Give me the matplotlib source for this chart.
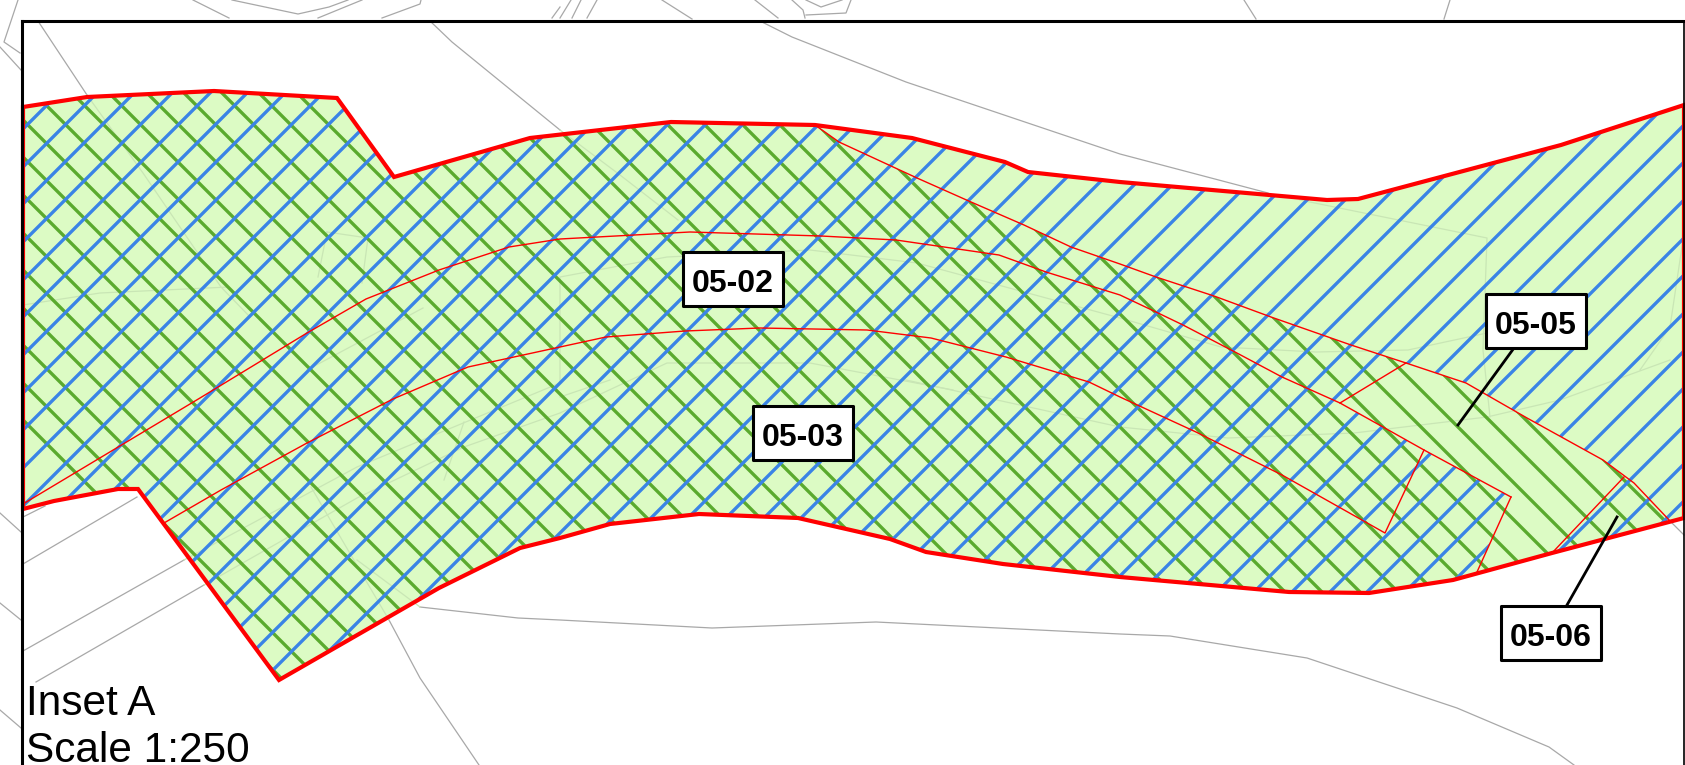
import matplotlib
matplotlib.use("Agg")
import matplotlib.pyplot as plt
from matplotlib.patches import Polygon, Rectangle

plt.rcParams['font.family'] = ['Liberation Sans', 'DejaVu Sans']

# everything in picture pixels
outer_top = [(23, 107), (87, 97), (214, 91), (337, 98), (394, 177), (530, 138), (671, 122), (815, 125),
             (912, 138), (1005, 162), (1028, 172), (1120, 182), (1327, 200), (1358, 199), (1561, 145), (1684, 105)]
outer_bottom = [(1684, 518), (1552, 553), (1453, 580), (1369, 593), (1289, 592), (1120, 577), (1003, 564),
                (926, 552), (890, 539), (798, 518), (699, 514), (610, 524), (560, 538), (520, 548), (439, 588),
                (279, 680), (138, 489), (118, 489), (54, 501), (23, 509)]

line_a = [(815, 125), (839, 142), (917, 178), (971, 202), (1024, 225), (1071, 247), (1120, 264), (1156, 277),
          (1214, 296), (1271, 317), (1351, 345), (1406, 363), (1466, 383), (1527, 418), (1603, 460),
          (1634, 483), (1671, 522)]
line_b = [(23, 504), (200, 398), (307, 333), (366, 299), (439, 270), (509, 247), (560, 239), (690, 232),
          (821, 236), (896, 240), (999, 255), (1046, 272), (1120, 295), (1156, 312), (1183, 325), (1235, 352),
          (1282, 377), (1340, 403), (1383, 427), (1424, 450), (1511, 497)]
line_c = [(164, 523), (221, 490), (307, 443), (393, 399), (468, 367), (560, 347), (606, 337), (685, 331),
          (760, 328), (867, 330), (931, 338), (1006, 357), (1089, 382), (1120, 397), (1196, 432), (1282, 475),
          (1385, 533), (1424, 450)]
tick_d = [(1406, 363), (1340, 403)]
tick_e = [(1511, 497), (1477, 572)]
tick_f = [(1624, 477), (1552, 553)]

# blue gap (no blue hatch inside 05-05)
blue_notch = [(1552, 553), (1624, 477), (1603, 460), (1527, 418), (1466, 383), (1406, 363), (1340, 403),
              (1383, 427), (1424, 450), (1511, 497), (1477, 572)]

blue_offsets = [152, 190, 227, 265, 303, 340, 378, 416, 453, 491, 529, 566, 604, 641, 679, 717, 754, 792, 830,
                867, 905, 943, 980, 1018, 1056, 1093, 1131, 1169, 1206, 1244, 1282, 1319, 1357, 1394, 1432, 1470,
                1507, 1545, 1583, 1620, 1658, 1696, 1733, 1771, 1809, 1846, 1884, 1922, 1959, 1997, 2035, 2072,
                2110, 2148, 2185]
green_offsets = [-1181, -1144, -1106, -1069, -1031, -994, -956, -918, -881, -843, -806, -768, -730, -693, -655,
                 -618, -580, -543, -505, -467, -429, -392, -354, -317, -279, -242, -204, -166, -129, -91, -54,
                 -16, 21, 59, 97, 134, 172, 210, 247, 285, 322, 360, 397]
hatch_slope = 1.0

grey_outside = [
    [(18, 0), (4, 42), (20, 53)],
    [(0, 47), (21, 70)],
    [(0, 513), (21, 532)],
    [(0, 603), (21, 620)],
    [(0, 710), (21, 728)],
    [(193, 0), (229, 18)],
    [(232, 0), (298, 14), (329, 7), (348, 0)],
    [(318, 18), (362, 0)],
    [(382, 18), (420, 4), (421, 0)],
    [(552, 18), (560, 7)],
    [(560, 18), (571, 0)],
    [(572, 18), (581, 0)],
    [(587, 18), (597, 0)],
    [(662, 0), (692, 19)],
    [(755, 0), (778, 18)],
    [(792, 0), (803, 10), (805, 18)],
    [(806, 15), (846, 13), (851, 0)],
    [(806, 0), (821, 7), (842, 0)],
    [(1244, 0), (1256, 19)],
    [(1450, 0), (1444, 19)],
]
grey_inside = [
    [(38, 21), (87, 95)],
    [(430, 21), (452, 42), (560, 130)],
    [(760, 21), (792, 37), (906, 82), (1120, 154), (1268, 193)],
    [(23, 517), (45, 506)],
    [(23, 564), (137, 497)],
    [(23, 651), (184, 560)],
    [(36, 682), (204, 585)],
    [(389, 620), (420, 678), (479, 765)],
    [(420, 607), (518, 618), (560, 620), (712, 628), (876, 622), (1120, 634), (1170, 636), (1307, 658),
     (1457, 708), (1549, 747), (1574, 765)],
    [(1671, 522), (1684, 535)],
]
faint_lines = [
    [(87, 95), (143, 173), (221, 287), (250, 317)],
    [(23, 305), (100, 293), (229, 287)],
    [(327, 232), (368, 238), (362, 283)],
    [(327, 232), (318, 277)],
    [(423, 308), (307, 370)],
    [(560, 130), (620, 175), (678, 220)],
    [(184, 560), (357, 467), (560, 383), (560, 277), (667, 257), (810, 250), (917, 263), (1120, 318), (1221, 347),
     (1316, 352), (1408, 350), (1487, 333)],
    [(204, 585), (357, 498), (464, 447), (560, 413), (667, 363), (810, 363), (953, 390)],
    [(560, 397), (610, 380)],
    [(906, 380), (1120, 427), (1228, 438), (1354, 433), (1487, 417), (1560, 400), (1670, 360)],
    [(1300, 200), (1487, 238), (1483, 350), (1490, 417)],
    [(1684, 233), (1670, 327), (1640, 370)],
    [(311, 487), (389, 620)],
    [(357, 560), (420, 607)],
    [(464, 422), (444, 480)],
]

labels = ['05-02', '05-03', '05-05', '05-06']
label_xy = [(733, 279), (803, 433), (1536, 321), (1551, 633)]
leaders = [[(1514, 348), (1458, 425)], [(1567, 605), (1617, 517)]]

FILL = '#dcfbc4'
BLUE = '#3a84e6'
GREEN = '#5aaa2e'
RED = '#ff0000'

fig = plt.figure(figsize=(16.85, 7.65), dpi=100)
ax = fig.add_axes([0, 0, 1, 1])
ax.set_xlim(0, 1685)
ax.set_ylim(765, 0)
ax.axis('off')

for pts in grey_outside:
    ax.plot(*zip(*pts), color='#a8a8a8', lw=0.9, zorder=1)
ax.add_patch(Rectangle((22, 21), 1662, 744, fc='white', ec='none', zorder=2))
for pts in grey_inside:
    ax.plot(*zip(*pts), color='#a8a8a8', lw=0.9, zorder=3)

outer = outer_top + outer_bottom
ax.add_patch(Polygon(outer, closed=True, fc=FILL, ec='none', zorder=4))
for pts in faint_lines:
    ax.plot(*zip(*pts), color='#c9e6b5', lw=0.9, zorder=5)

green_clip = Polygon(outer_top[:8] + line_a[1:] + outer_bottom[1:], closed=True, fc='none', ec='none',
                     transform=ax.transData)
blue_clip = Polygon(outer_top + outer_bottom[:1] + blue_notch + outer_bottom[2:], closed=True, fc='none',
                    ec='none', transform=ax.transData)
ax.add_patch(green_clip)
ax.add_patch(blue_clip)

x0, x1 = 0, 1685
for c in green_offsets:
    ln, = ax.plot([x0, x1], [c + hatch_slope * x0, c + hatch_slope * x1], color=GREEN, lw=2.4, zorder=6)
    ln.set_clip_path(green_clip)
for b in blue_offsets:
    ln, = ax.plot([x0, x1], [b - hatch_slope * x0, b - hatch_slope * x1], color=BLUE, lw=2.4, zorder=7)
    ln.set_clip_path(blue_clip)

for pts in [line_a, line_b, line_c, tick_d, tick_e, tick_f]:
    ax.plot(*zip(*pts), color=RED, lw=1.0, zorder=8)
ax.add_patch(Polygon(outer, closed=True, fc='none', ec=RED, lw=3.0, joinstyle='miter', zorder=9))

for pts in leaders:
    ax.plot(*zip(*pts), color='black', lw=2.0, zorder=10)
for txt, (x, y) in zip(labels, label_xy):
    ax.add_patch(Rectangle((x - 50, y - 27), 100, 54, fc='white', ec='black', lw=2.2, joinstyle='round', zorder=11))
    ax.text(x, y + 1, txt, ha='center', va='center_baseline', fontsize=23, fontweight='bold', color='black',
            zorder=12)

ax.plot([22, 22], [21, 765], color='black', lw=2.2, zorder=13, solid_capstyle='projecting')
ax.plot([22, 1684], [21, 21], color='black', lw=2.2, zorder=13, solid_capstyle='projecting')
ax.plot([1684, 1684], [21, 765], color='black', lw=1.2, zorder=13)

ax.text(26, 715, 'Inset A', fontsize=30.5, color='black', va='baseline', zorder=14)
ax.text(26, 762, 'Scale 1:250', fontsize=30.5, color='black', va='baseline', zorder=14)

fig.savefig('out.png', dpi=100)
